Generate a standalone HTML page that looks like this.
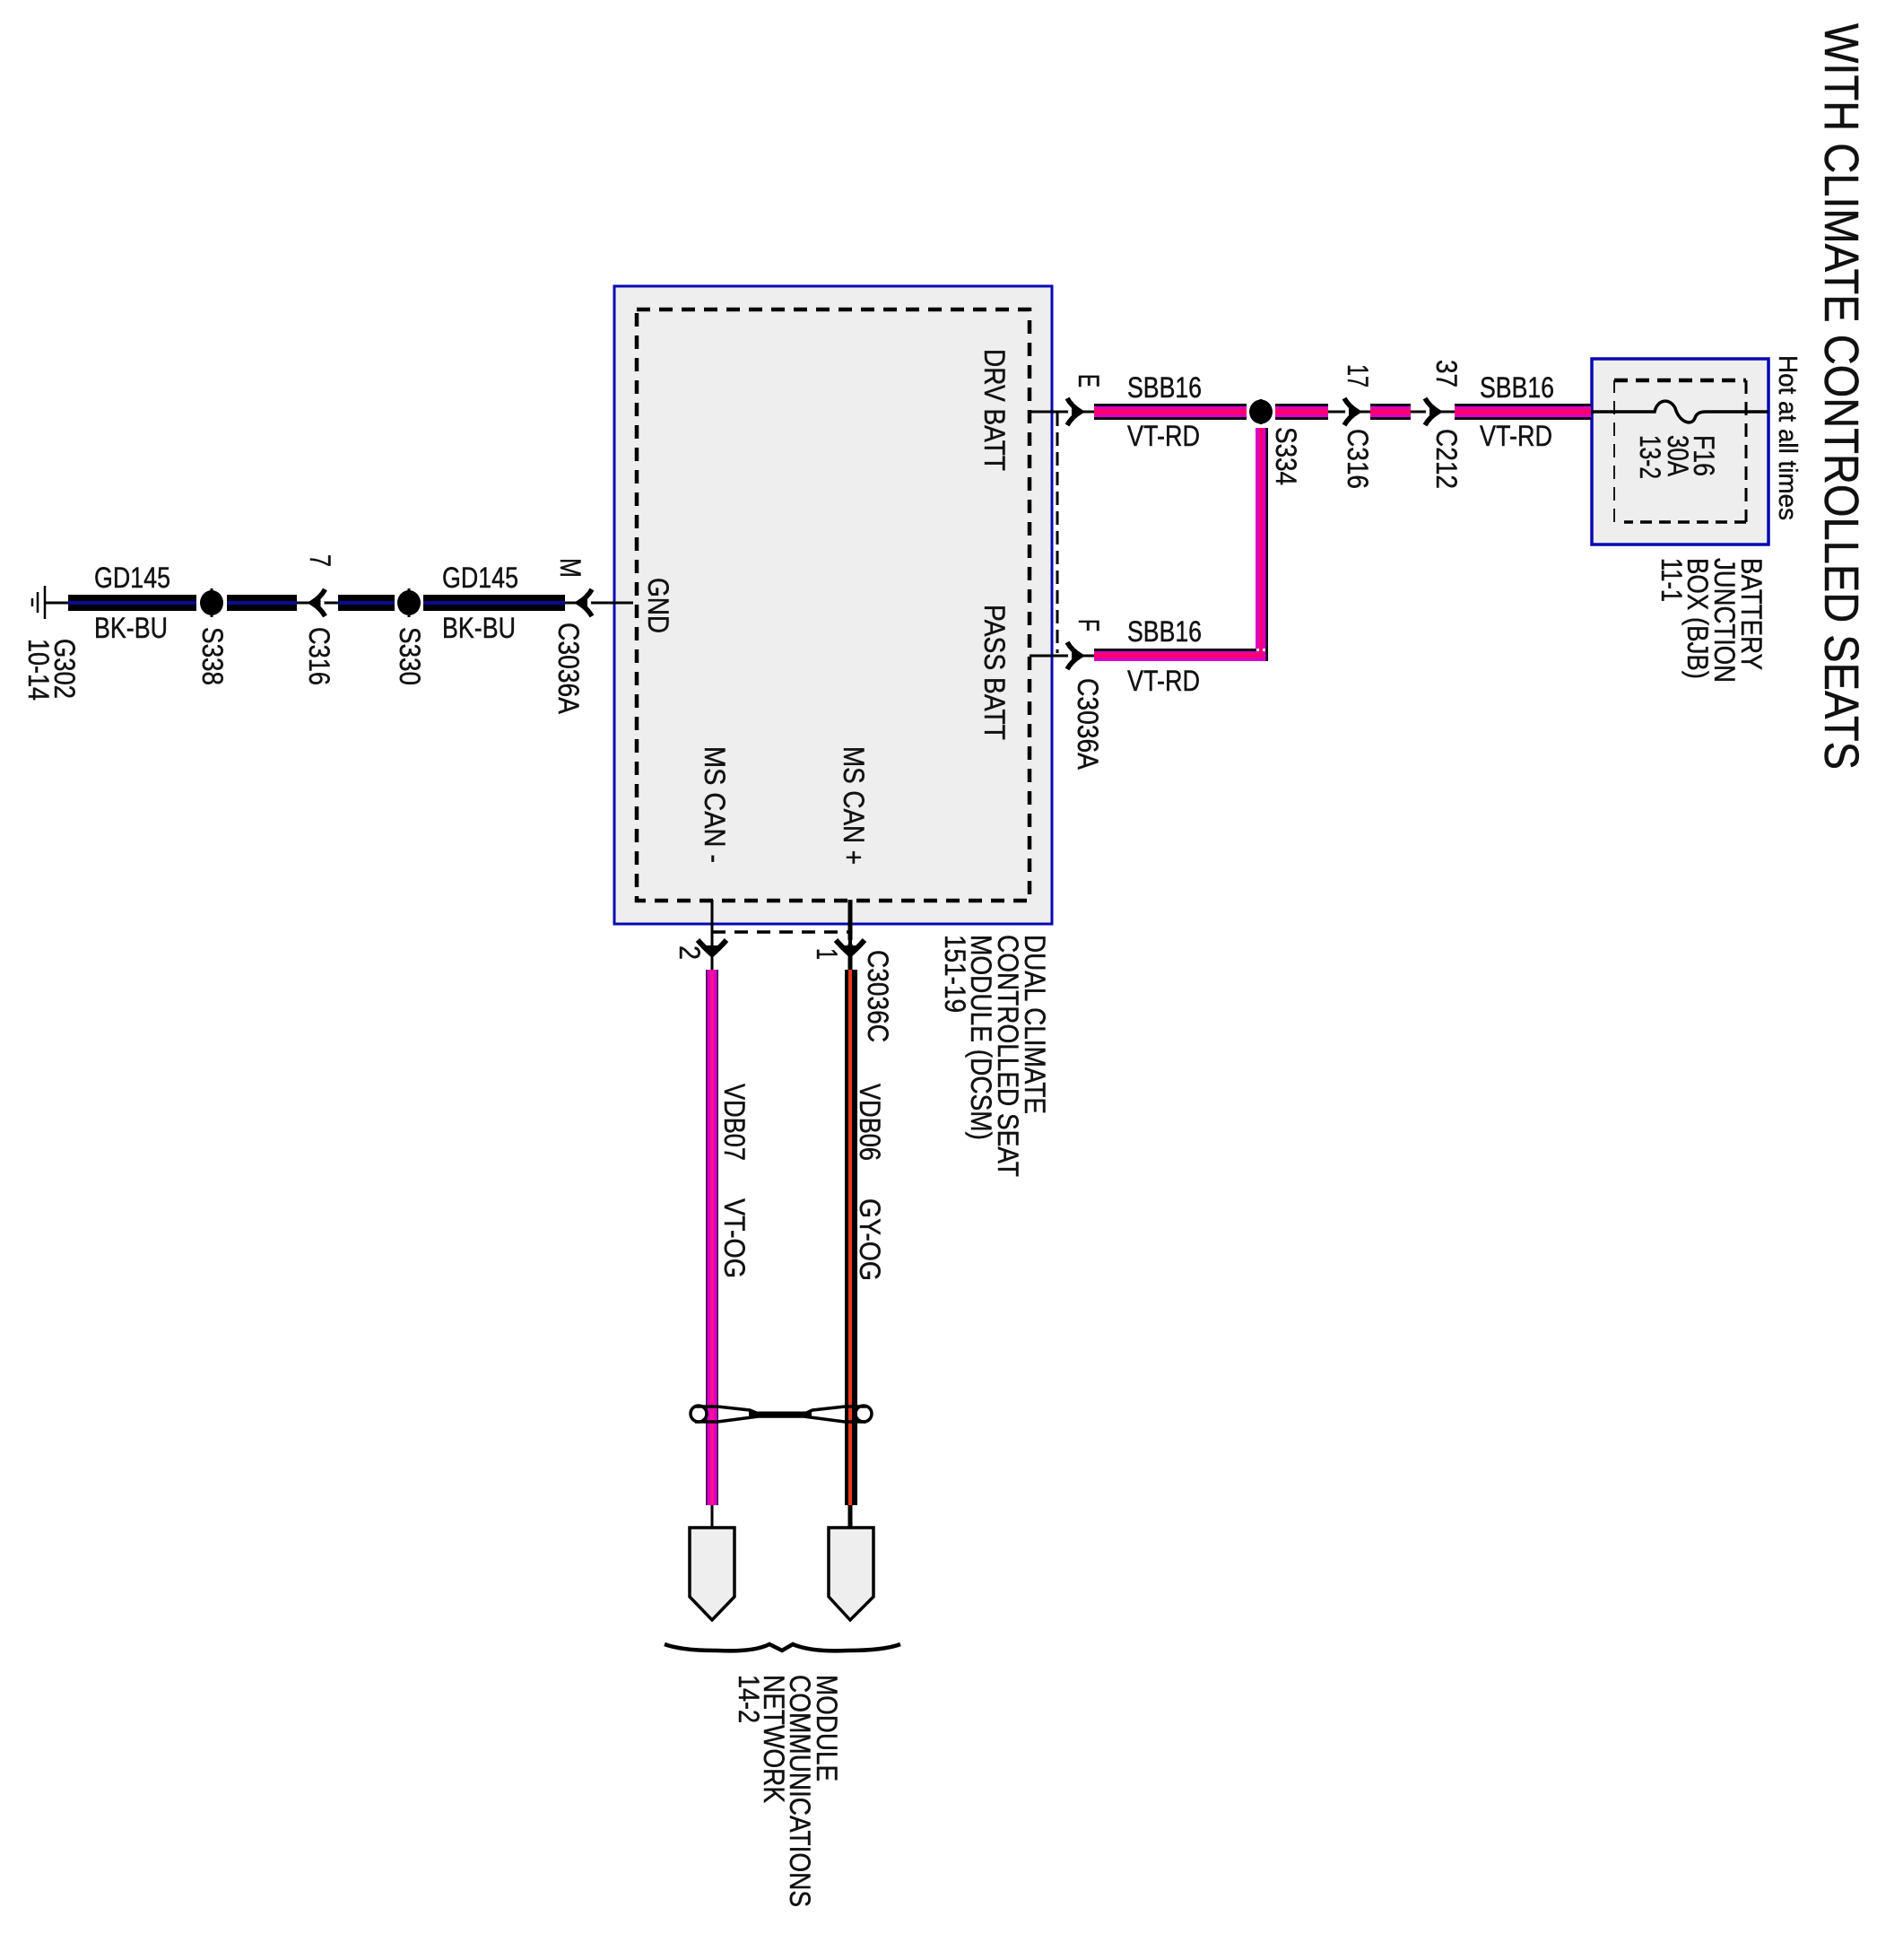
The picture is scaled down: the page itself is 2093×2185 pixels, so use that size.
<!DOCTYPE html>
<html><head><meta charset="utf-8"><style>
html,body{margin:0;padding:0;background:#fff}
svg{display:block}
text{font-family:"Liberation Sans",Arial,sans-serif;fill:#111;font-size:32px;stroke:#111;stroke-width:.45px}
</style></head><body>
<svg width="2093" height="2185" viewBox="0 0 2093 2185" xmlns="http://www.w3.org/2000/svg">
<defs>
<g id="chev"><path d="M-7,-15 Q-2,-6 8,0 Q-2,6 -7,15" fill="none" stroke="#000" stroke-width="5.5"/><path d="M-2,-6 L8,0 L-2,6 Z" fill="#000"/><circle cx="-4" cy="0" r="2.2" fill="#fff"/></g>
<g id="chevd"><path d="M-16,-8 Q-8,1 0,8 Q8,1 16,-8" fill="none" stroke="#000" stroke-width="6"/><path d="M-7,-2 L0,10 L7,-2 Z" fill="#000"/><rect x="-5" y="-8" width="3" height="4" fill="#fff"/><rect x="2" y="-8" width="3" height="4" fill="#fff"/></g>
</defs>

<!-- main module -->
<rect x="685" y="319" width="488" height="711" fill="#eee" stroke="#0808b4" stroke-width="3"/>
<rect x="710" y="345" width="438" height="659" fill="none" stroke="#000" stroke-width="4.5" stroke-dasharray="15 10"/>

<!-- BJB -->
<rect x="1775" y="400" width="197" height="207" fill="#eee" stroke="#0808b4" stroke-width="3.5"/>
<path d="M1800,424 H1947" fill="none" stroke="#000" stroke-width="4.5" stroke-dasharray="15 9"/>
<path d="M1947,424 V582" fill="none" stroke="#000" stroke-width="3" stroke-dasharray="15 9"/>
<path d="M1947,582 H1811" fill="none" stroke="#000" stroke-width="3.5" stroke-dasharray="13 8"/>
<path d="M1800,582 V424" fill="none" stroke="#000" stroke-width="1.8" stroke-dasharray="15 9"/>
<path d="M1774,459 H1845 C1848,445 1862,443 1868,455 C1872,470 1886,476 1890,466 Q1892,459 1902,459 H1972" fill="none" stroke="#000" stroke-width="3.5"/>

<!-- thin wires -->
<g stroke="#000" stroke-width="3" fill="none">
<path d="M1148,459 H1222"/><path d="M1148,731 H1222"/>
<path d="M1481,459 H1528"/><path d="M1573,459 H1622"/>
<path d="M50,672 H78"/><path d="M331,672 H377"/><path d="M630,672 H706"/>
<path d="M794,1003 V1082"/><path d="M794,1678 V1702"/>
<path d="M1406,445 V473"/><path d="M236,656 V688"/><path d="M456,656 V688"/>
</g>
<path d="M948,1003 V1082 M948,1678 V1702" stroke="#000" stroke-width="5" fill="none"/>
<path d="M1179,460 V728" stroke="#000" stroke-width="3" fill="none" stroke-dasharray="15 7"/>
<path d="M794,1039 H946" stroke="#000" stroke-width="3.5" fill="none" stroke-dasharray="15 10"/>

<!-- ground -->
<path d="M50,653 V690 M42,660 V683 M36,667 V676" stroke="#000" stroke-width="2.5"/>

<!-- BK-BU wires -->
<g fill="#000">
<rect x="76" y="663" width="143" height="18"/><rect x="253" y="663" width="78" height="18"/>
<rect x="377" y="663" width="63" height="18"/><rect x="472" y="663" width="158" height="18"/>
</g>
<g fill="#0a0a90">
<rect x="76" y="670" width="143" height="4"/><rect x="253" y="670" width="78" height="4"/>
<rect x="377" y="670" width="63" height="4"/><rect x="472" y="670" width="158" height="4"/>
</g>
<ellipse cx="236" cy="672" rx="13" ry="14" fill="#000"/>
<ellipse cx="456" cy="672" rx="13" ry="14" fill="#000"/>

<!-- VT-RD wires -->
<g fill="#0c0010">
<rect x="1220" y="450" width="170" height="18"/><rect x="1422" y="450" width="59" height="18"/>
<rect x="1528" y="450" width="45" height="18"/><rect x="1622" y="450" width="152" height="18"/>
<rect x="1220" y="723" width="181" height="5"/>
<rect x="1411" y="477" width="3" height="260"/>
</g>
<g fill="#d800c8">
<rect x="1220" y="453" width="170" height="12"/><rect x="1422" y="453" width="59" height="12"/>
<rect x="1528" y="453" width="45" height="12"/><rect x="1622" y="453" width="152" height="12"/>
<rect x="1400" y="477" width="11.5" height="246"/><rect x="1220" y="726" width="191.5" height="11"/>
</g>
<g fill="#ff0068">
<rect x="1220" y="456" width="170" height="6"/><rect x="1422" y="456" width="59" height="6"/>
<rect x="1528" y="456" width="45" height="6"/><rect x="1622" y="456" width="152" height="6"/>
<rect x="1220" y="728" width="186" height="5"/><rect x="1404" y="477" width="4" height="256"/>
</g>
<ellipse cx="1406" cy="459" rx="13" ry="13.5" fill="#000"/>

<!-- VDB wires -->
<rect x="787" y="1081" width="14" height="597" fill="#401040"/>
<rect x="788.5" y="1081" width="11" height="597" fill="#d800c8"/>
<rect x="792" y="1081" width="4" height="597" fill="#ff1090"/>
<rect x="942" y="1081" width="14" height="597" fill="#000"/>
<rect x="946" y="1081" width="4" height="597" fill="#e83820"/>

<!-- twist -->
<g fill="none" stroke="#000" stroke-width="3.5">
<circle cx="779" cy="1576" r="9"/><circle cx="963" cy="1576" r="9"/>
<path d="M775,1568 H800 L836,1572 L848,1577 H895 L906,1572 L942,1568 H966"/>
<path d="M775,1585 H800 L846,1579 L896,1579 L942,1585 H966"/>
</g>
<path d="M835,1576 H905" stroke="#000" stroke-width="5"/>

<!-- pentagons -->
<path d="M769,1703 H819 V1780 L794,1806 L769,1780 Z" fill="#eee" stroke="#000" stroke-width="3.5"/>
<path d="M924,1703 H974 V1780 L948,1806 L924,1780 Z" fill="#eee" stroke="#000" stroke-width="3.5"/>

<!-- brace -->
<path d="M741,1833 Q760,1840 800,1840 Q840,1842 858,1833 L872,1840 L884,1833 Q905,1842 945,1840 Q985,1840 1004,1833" fill="none" stroke="#000" stroke-width="4.5"/>

<!-- connectors -->
<use href="#chev" transform="translate(1197,459)"/>
<use href="#chev" transform="translate(1197,731)"/>
<use href="#chev" transform="translate(1506,459)"/>
<use href="#chev" transform="translate(1596,459)"/>
<use href="#chev" transform="translate(355.5,672) scale(-1,1)"/>
<use href="#chev" transform="translate(653,672) scale(-1,1)"/>
<use href="#chevd" transform="translate(794,1056)"/>
<use href="#chevd" transform="translate(948,1056)"/>

<!-- horizontal labels -->
<g style="font-size:30px">
<text x="105" y="655" textLength="85" lengthAdjust="spacingAndGlyphs">GD145</text>
<text x="105" y="711" textLength="82" lengthAdjust="spacingAndGlyphs">BK-BU</text>
<text x="493" y="655" textLength="85" lengthAdjust="spacingAndGlyphs">GD145</text>
<text x="493" y="711" textLength="82" lengthAdjust="spacingAndGlyphs">BK-BU</text>
<text x="1257" y="443" textLength="83" lengthAdjust="spacingAndGlyphs">SBB16</text>
<text x="1257" y="497" textLength="81" lengthAdjust="spacingAndGlyphs">VT-RD</text>
<text x="1650" y="443" textLength="83" lengthAdjust="spacingAndGlyphs">SBB16</text>
<text x="1650" y="497" textLength="81" lengthAdjust="spacingAndGlyphs">VT-RD</text>
<text x="1257" y="715" textLength="83" lengthAdjust="spacingAndGlyphs">SBB16</text>
<text x="1257" y="770" textLength="81" lengthAdjust="spacingAndGlyphs">VT-RD</text>
</g>

<!-- rotated labels -->
<text transform="translate(2035,26) rotate(90)" textLength="832" lengthAdjust="spacingAndGlyphs" style="font-size:54px">WITH CLIMATE CONTROLLED SEATS</text>
<text transform="translate(1984,396) rotate(90)" textLength="184" lengthAdjust="spacingAndGlyphs" style="font-size:29px">Hot at all times</text>

<g transform="translate(1,-1)">
<text transform="translate(60,713) rotate(90)" textLength="67" lengthAdjust="spacingAndGlyphs">G302</text>
<text transform="translate(31,713) rotate(90)" textLength="69" lengthAdjust="spacingAndGlyphs">10-14</text>
<text transform="translate(225,700) rotate(90)" textLength="65" lengthAdjust="spacingAndGlyphs">S338</text>
<text transform="translate(344,700) rotate(90)" textLength="65" lengthAdjust="spacingAndGlyphs">C316</text>
<text transform="translate(445,700) rotate(90)" textLength="65" lengthAdjust="spacingAndGlyphs">S330</text>
<text transform="translate(622,695) rotate(90)" textLength="102" lengthAdjust="spacingAndGlyphs">C3036A</text>
<text transform="translate(345,619) rotate(90)" textLength="14" lengthAdjust="spacingAndGlyphs">7</text>
<text transform="translate(624,623) rotate(90)" textLength="22" lengthAdjust="spacingAndGlyphs">M</text>

<text transform="translate(1202,418) rotate(90)" textLength="15" lengthAdjust="spacingAndGlyphs">E</text>
<text transform="translate(1202,691) rotate(90)" textLength="14" lengthAdjust="spacingAndGlyphs">F</text>
<text transform="translate(1201,757) rotate(90)" textLength="102" lengthAdjust="spacingAndGlyphs">C3036A</text>
<text transform="translate(1422,477) rotate(90)" textLength="65" lengthAdjust="spacingAndGlyphs">S334</text>
<text transform="translate(1502,479) rotate(90)" textLength="67" lengthAdjust="spacingAndGlyphs">C316</text>
<text transform="translate(1601,479) rotate(90)" textLength="67" lengthAdjust="spacingAndGlyphs">C212</text>
<text transform="translate(1502,407) rotate(90)" textLength="26" lengthAdjust="spacingAndGlyphs">17</text>
<text transform="translate(1601,402) rotate(90)" textLength="31" lengthAdjust="spacingAndGlyphs">37</text>

<text transform="translate(1888,486) rotate(90)" textLength="46" lengthAdjust="spacingAndGlyphs">F16</text>
<text transform="translate(1859,486) rotate(90)" textLength="46" lengthAdjust="spacingAndGlyphs">30A</text>
<text transform="translate(1828,486) rotate(90)" textLength="49" lengthAdjust="spacingAndGlyphs">13-2</text>

<text transform="translate(1941,623) rotate(90)" textLength="125" lengthAdjust="spacingAndGlyphs">BATTERY</text>
<text transform="translate(1911,623) rotate(90)" textLength="139" lengthAdjust="spacingAndGlyphs">JUNCTION</text>
<text transform="translate(1881,623) rotate(90)" textLength="135" lengthAdjust="spacingAndGlyphs">BOX (BJB)</text>
<text transform="translate(1852,623) rotate(90)" textLength="49" lengthAdjust="spacingAndGlyphs">11-1</text>

<text transform="translate(1097,390) rotate(90)" textLength="136" lengthAdjust="spacingAndGlyphs">DRV BATT</text>
<text transform="translate(1097,675) rotate(90)" textLength="151" lengthAdjust="spacingAndGlyphs">PASS BATT</text>
<text transform="translate(722,645) rotate(90)" textLength="62" lengthAdjust="spacingAndGlyphs">GND</text>
<text transform="translate(785,833) rotate(90)" textLength="130" lengthAdjust="spacingAndGlyphs">MS CAN -</text>
<text transform="translate(940,833) rotate(90)" textLength="132" lengthAdjust="spacingAndGlyphs">MS CAN +</text>

<text transform="translate(1142,1043) rotate(90)" textLength="200" lengthAdjust="spacingAndGlyphs">DUAL CLIMATE</text>
<text transform="translate(1112,1043) rotate(90)" textLength="270" lengthAdjust="spacingAndGlyphs">CONTROLLED SEAT</text>
<text transform="translate(1082,1043) rotate(90)" textLength="229" lengthAdjust="spacingAndGlyphs">MODULE (DCSM)</text>
<text transform="translate(1053,1043) rotate(90)" textLength="87" lengthAdjust="spacingAndGlyphs">151-19</text>

<text transform="translate(967,1060) rotate(90)" textLength="103" lengthAdjust="spacingAndGlyphs">C3036C</text>
<text transform="translate(757,1055) rotate(90)" textLength="16" lengthAdjust="spacingAndGlyphs">2</text>
<text transform="translate(910,1058) rotate(90)" textLength="13" lengthAdjust="spacingAndGlyphs">1</text>
<text transform="translate(807,1209) rotate(90)" textLength="86" lengthAdjust="spacingAndGlyphs">VDB07</text>
<text transform="translate(807,1337) rotate(90)" textLength="89" lengthAdjust="spacingAndGlyphs">VT-OG</text>
<text transform="translate(958,1209) rotate(90)" textLength="86" lengthAdjust="spacingAndGlyphs">VDB06</text>
<text transform="translate(958,1337) rotate(90)" textLength="92" lengthAdjust="spacingAndGlyphs">GY-OG</text>

<text transform="translate(910,1868) rotate(90)" textLength="119" lengthAdjust="spacingAndGlyphs">MODULE</text>
<text transform="translate(880,1868) rotate(90)" textLength="259" lengthAdjust="spacingAndGlyphs">COMMUNICATIONS</text>
<text transform="translate(851,1868) rotate(90)" textLength="143" lengthAdjust="spacingAndGlyphs">NETWORK</text>
<text transform="translate(823,1868) rotate(90)" textLength="54" lengthAdjust="spacingAndGlyphs">14-2</text>
</g>
</svg>
</body></html>
